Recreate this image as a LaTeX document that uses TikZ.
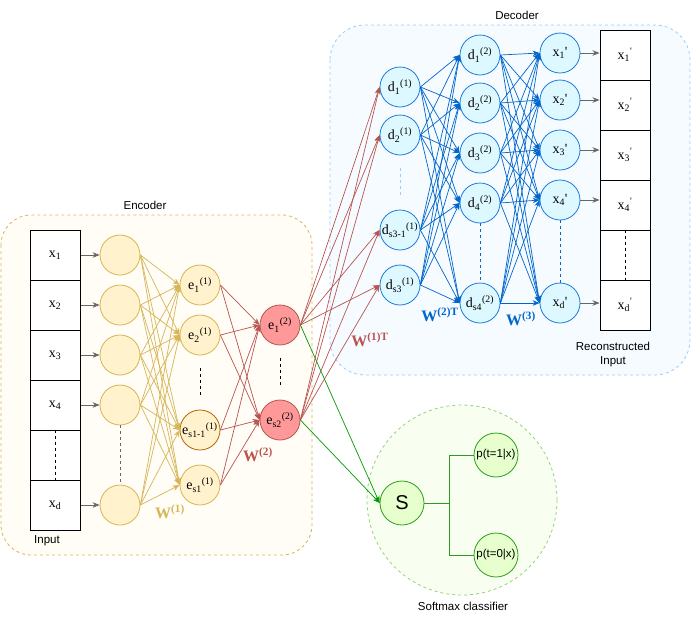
\documentclass[tikz,border=0pt]{standalone}
\usepackage{fontspec}
\setmainfont{Liberation Sans}
\newfontfamily\tms{Liberation Serif}
\usetikzlibrary{arrows.meta}
\definecolor{encline}{HTML}{D6B656}
\definecolor{encfill}{HTML}{FFF2CC}
\definecolor{encbg}{HTML}{FFFDF6}
\definecolor{encodd}{HTML}{B46504}
\definecolor{redline}{HTML}{B85450}
\definecolor{redfill}{HTML}{FF9999}
\definecolor{decline}{HTML}{0066CC}
\definecolor{decnode}{HTML}{1C7BDB}
\definecolor{decfill}{HTML}{DDF8FF}
\definecolor{decbg}{HTML}{F6FBFF}
\definecolor{decdash}{HTML}{99CCFF}
\definecolor{smline}{HTML}{009900}
\definecolor{smnode}{HTML}{2D9C1E}
\definecolor{smfill}{HTML}{E6FFCC}
\definecolor{smbg}{HTML}{F8FFF1}
\definecolor{smdash}{HTML}{97D077}
\definecolor{feed}{HTML}{666666}
\newcommand{\nlab}[3]{{\tms #1\textsubscript{#2}\textsuperscript{#3}}}
\newcommand{\wlab}[1]{{\tms\bfseries W\textsuperscript{#1}}}

\begin{document}
\begin{tikzpicture}[x=1pt, y=-1pt, font=\fontsize{11.5}{14}\selectfont,
  >={Stealth[length=7pt, width=5.5pt]},
  cell/.style={draw, line width=1pt, minimum width=50pt, minimum height=50pt, inner sep=0pt, fill=white, font=\tms\fontsize{14}{16}\selectfont},
  neuron/.style={circle, draw, line width=0.8pt, minimum size=40pt, inner sep=0pt, font=\tms\fontsize{14}{16}\selectfont},
  encn/.style={neuron, draw=encline, fill=encfill},
  midn/.style={neuron, draw=redline, fill=redfill},
  decn/.style={neuron, draw=decnode, fill=decfill},
  smn/.style={circle, draw=smnode, line width=0.8pt, fill=smfill, minimum size=44pt, inner sep=0pt},
  dots/.style={dash pattern=on 3pt off 3pt, line width=0.8pt},
  link/.style={->, line width=0.7pt},
  wgt/.style={font=\tms\bfseries\fontsize{16}{18}\selectfont}]
\useasboundingbox (0,0) rectangle (691,619);

% group backgrounds
\draw[encline, fill=encbg, dots, rounded corners=30pt] (1,215) rectangle (312,555);
\draw[decdash, fill=decbg, dots, rounded corners=35pt] (330,25) rectangle (690,375);
\draw[smdash, fill=smbg, dots] (462,500) circle (95);
\node (enctitle) at (145,205) {Encoder};
\node (dectitle) at (517,15) {Decoder};
\node (smtitle) at (463,606) {Softmax classifier};

% input column
\foreach \i/\t in {1/1,2/2,3/3,4/4,5/,6/d}
  \node[cell] (in\i) at (55,205+50*\i) {\ifx\t\empty\else x\textsubscript{\t}\fi};
\draw[dots] (in5.north) -- (in5.south);
\node (inlabel) at (47,541) {Input};

% encoder
\foreach \i/\y in {1/255,2/305,3/355,4/405,5/505}
  \node[encn] (c\i) at (120,\y) {};
\node[encn] (ea1) at (200,285) {\nlab{e}{1}{(1)}};
\node[encn] (ea2) at (200,335) {\nlab{e}{2}{(1)}};
\node[encn, draw=encodd] (ea3) at (200,430) {\nlab{e}{s1-1}{(1)}};
\node[encn] (ea4) at (200,485) {\nlab{e}{s1}{(1)}};
\node[midn] (eb1) at (280,325) {\nlab{e}{1}{(2)}};
\node[midn] (eb2) at (280,420) {\nlab{e}{s2}{(2)}};
\draw[dots, feed] (c4) -- (c5);
\draw[dots, shorten <=13pt, shorten >=15pt] (ea2) -- (ea3);
\draw[dots, shorten <=13pt, shorten >=12pt] (eb1) -- (eb2);

\foreach \i/\c in {1/1,2/2,3/3,4/4,6/5}
  \draw[link, feed] (in\i) -- (c\c);
\foreach \a in {1,...,5}
  \foreach \b in {1,...,4}
    \draw[link, encline] (c\a.east) -- (ea\b.west);
\foreach \a in {1,...,4}
  \foreach \b in {1,2}
    \draw[link, redline] (ea\a.east) -- (eb\b.west);

% decoder
\node[decn] (da1) at (400,87) {\nlab{d}{1}{(1)}};
\node[decn] (da2) at (400,135) {\nlab{d}{2}{(1)}};
\node[decn] (da3) at (400,230) {\nlab{d}{s3-1}{(1)}};
\node[decn] (da4) at (400,285) {\nlab{d}{s3}{(1)}};
\foreach \i/\s/\y in {1/1/55,2/2/103,3/3/153,4/4/203,5/s4/303}
  \node[decn] (db\i) at (480,\y) {\nlab{d}{\s}{(2)}};
\foreach \i/\s/\y in {1/1/53,2/2/100,3/3/150,4/4/200,5/d/303}
  \node[decn] (xr\i) at (560,\y) {{\tms x\textsubscript{\s}'}};
\draw[dots, decdash, shorten <=13pt, shorten >=15pt] (da2) -- (da3);
\draw[dots, decline] (db4) -- (db5);
\draw[dots, decline] (xr4) -- (xr5);

\foreach \a in {1,2}
  \foreach \b in {1,...,4}
    \draw[link, redline] (eb\a.east) -- (da\b.west);
\foreach \a in {1,...,4}
  \foreach \b in {1,...,5}
    \draw[link, decline] (da\a.east) -- (db\b.west);
\foreach \a in {1,...,5}
  \foreach \b in {1,...,5}
    \draw[link, decline] (db\a.east) -- (xr\b.west);

% reconstructed column
\foreach \i/\t in {1/1,2/2,3/3,4/4,5/,6/d}
  \node[cell] (out\i) at (625,5+50*\i) {\ifx\t\empty\else x\textsubscript{\t}\textsuperscript{'}\fi};
\draw[dots] (out5.north) -- (out5.south);
\foreach \i/\c in {1/1,2/2,3/3,4/4,5/6}
  \draw[link, feed] (xr\i) -- (xr\i -| out\c.west);
\node[align=center] (outlabel) at (613,355) {Reconstructed\\Input};

% softmax classifier
\node[smn, font=\fontsize{20}{22}\selectfont] (sm) at (402,503) {S};
\node[smn] (p1) at (496,455) {p(t=1|x)};
\node[smn] (p0) at (496,555) {p(t=0|x)};
\coordinate (fork) at (449,503);
\draw[smnode, line width=0.8pt] (sm) -- (fork) |- (p1);
\draw[smnode, line width=0.8pt] (fork) |- (p0);
\draw[link, smline] (eb1.east) -- (sm.west);
\draw[link, smline] (eb2.east) -- (sm.west);

% weight labels
\node[wgt, text=encline] (w1) at (170,512) {\wlab{(1)}};
\node[wgt, text=redline] (w2) at (258,455) {\wlab{(2)}};
\node[wgt, text=redline] (w1t) at (370,340) {\wlab{(1)T}};
\node[wgt, text=decline] (w2t) at (440,315) {\wlab{(2)T}};
\node[wgt, text=decline] (w3) at (521,319) {\wlab{(3)}};
\end{tikzpicture}
\end{document}
